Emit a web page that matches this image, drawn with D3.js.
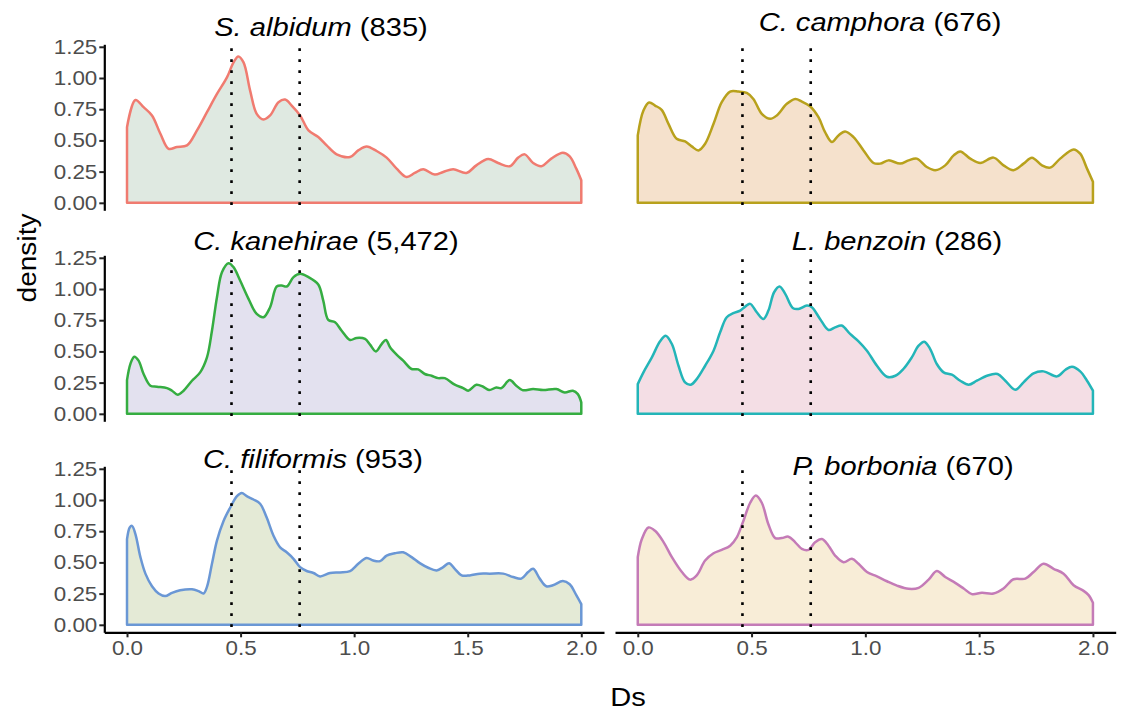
<!DOCTYPE html>
<html>
<head>
<meta charset="utf-8">
<script src="https://cdn.jsdelivr.net/npm/d3@7/dist/d3.min.js"></script>
<style>
  html, body { margin: 0; padding: 0; background: #ffffff; }
  svg { display: block; font-family: "Liberation Sans", Arial, Helvetica, sans-serif; }
</style>
</head>
<body>
<svg id="chart" width="1121" height="713"></svg>
<script>
// Species names (italic part) and number of gene pairs
const speciesNames = ["S. albidum", "C. camphora", "C. kanehirae", "L. benzoin", "C. filiformis", "P. borbonia"];
const pairCounts = ["(835)", "(676)", "(5,472)", "(286)", "(953)", "(670)"];

// Kernel density of Ds for each species: [Ds, density]
const albidum = [[0,0.606],[0.037,0.824],[0.073,0.766],[0.11,0.70],[0.147,0.553],[0.183,0.433],[0.22,0.447],[0.264,0.46],[0.308,0.58],[0.352,0.726],[0.396,0.872],[0.44,1.005],[0.469,1.125],[0.49,1.173],[0.513,1.125],[0.542,0.899],[0.571,0.713],[0.601,0.668],[0.63,0.70],[0.667,0.806],[0.696,0.827],[0.725,0.779],[0.762,0.70],[0.799,0.58],[0.842,0.527],[0.879,0.46],[0.923,0.388],[0.982,0.367],[1.018,0.42],[1.055,0.452],[1.099,0.415],[1.143,0.362],[1.187,0.274],[1.231,0.207],[1.267,0.239],[1.304,0.269],[1.355,0.226],[1.392,0.247],[1.436,0.269],[1.494,0.239],[1.538,0.30],[1.59,0.351],[1.634,0.319],[1.685,0.293],[1.722,0.362],[1.751,0.388],[1.788,0.319],[1.824,0.293],[1.868,0.354],[1.919,0.402],[1.949,0.372],[1.978,0.274],[2.0,0.181]];
const camphora = [[0,0.54],[0.025,0.739],[0.05,0.803],[0.076,0.779],[0.105,0.745],[0.135,0.633],[0.171,0.513],[0.208,0.492],[0.237,0.452],[0.267,0.42],[0.296,0.473],[0.333,0.633],[0.369,0.806],[0.406,0.891],[0.442,0.891],[0.479,0.88],[0.508,0.832],[0.545,0.713],[0.582,0.673],[0.611,0.70],[0.655,0.793],[0.692,0.832],[0.721,0.811],[0.757,0.774],[0.794,0.686],[0.823,0.566],[0.853,0.487],[0.882,0.54],[0.911,0.572],[0.948,0.527],[0.992,0.42],[1.036,0.319],[1.065,0.314],[1.102,0.34],[1.153,0.314],[1.19,0.34],[1.226,0.354],[1.27,0.287],[1.307,0.261],[1.351,0.30],[1.388,0.38],[1.417,0.412],[1.461,0.354],[1.505,0.319],[1.563,0.362],[1.607,0.30],[1.651,0.261],[1.695,0.314],[1.732,0.362],[1.776,0.30],[1.812,0.282],[1.856,0.354],[1.915,0.428],[1.944,0.394],[1.974,0.274],[2.0,0.168]];
const kanehirae = [[0,0.27],[0.015,0.40],[0.032,0.458],[0.051,0.426],[0.073,0.319],[0.103,0.225],[0.132,0.217],[0.176,0.206],[0.198,0.185],[0.223,0.153],[0.249,0.185],[0.286,0.265],[0.322,0.332],[0.352,0.452],[0.374,0.666],[0.396,0.934],[0.418,1.135],[0.447,1.207],[0.469,1.175],[0.498,1.068],[0.535,0.921],[0.571,0.80],[0.601,0.774],[0.63,0.854],[0.659,1.02],[0.681,1.028],[0.703,1.02],[0.733,1.095],[0.762,1.122],[0.799,1.095],[0.842,1.036],[0.864,0.907],[0.886,0.752],[0.916,0.733],[0.945,0.666],[0.982,0.592],[1.011,0.608],[1.048,0.60],[1.07,0.554],[1.096,0.50],[1.121,0.559],[1.14,0.592],[1.158,0.533],[1.187,0.474],[1.216,0.426],[1.253,0.359],[1.282,0.356],[1.311,0.319],[1.341,0.305],[1.37,0.286],[1.399,0.286],[1.443,0.233],[1.48,0.206],[1.502,0.185],[1.538,0.233],[1.568,0.217],[1.594,0.19],[1.626,0.211],[1.648,0.206],[1.685,0.27],[1.714,0.225],[1.741,0.19],[1.788,0.198],[1.832,0.19],[1.89,0.198],[1.927,0.171],[1.963,0.185],[1.985,0.158],[2.0,0.091]];
const benzoin = [[0,0.238],[0.025,0.332],[0.062,0.452],[0.098,0.581],[0.123,0.626],[0.15,0.559],[0.179,0.385],[0.208,0.252],[0.233,0.233],[0.259,0.278],[0.296,0.385],[0.333,0.506],[0.362,0.653],[0.391,0.774],[0.42,0.806],[0.45,0.827],[0.472,0.859],[0.494,0.881],[0.523,0.814],[0.552,0.76],[0.574,0.827],[0.599,0.974],[0.623,1.02],[0.648,0.961],[0.681,0.848],[0.706,0.84],[0.743,0.867],[0.765,0.854],[0.801,0.76],[0.838,0.672],[0.867,0.693],[0.896,0.707],[0.933,0.64],[0.97,0.581],[1.007,0.506],[1.051,0.385],[1.095,0.297],[1.132,0.305],[1.167,0.359],[1.204,0.452],[1.234,0.546],[1.259,0.578],[1.285,0.519],[1.314,0.399],[1.344,0.332],[1.38,0.313],[1.417,0.265],[1.454,0.233],[1.49,0.265],[1.534,0.305],[1.581,0.319],[1.615,0.265],[1.659,0.193],[1.695,0.252],[1.739,0.324],[1.783,0.34],[1.842,0.30],[1.879,0.353],[1.908,0.377],[1.944,0.34],[1.974,0.265],[2.0,0.185]];
const filiformis = [[0,0.687],[0.012,0.78],[0.022,0.793],[0.037,0.727],[0.059,0.542],[0.081,0.41],[0.11,0.309],[0.139,0.251],[0.168,0.23],[0.198,0.256],[0.234,0.277],[0.286,0.285],[0.315,0.27],[0.337,0.251],[0.352,0.304],[0.374,0.489],[0.396,0.674],[0.425,0.832],[0.454,0.938],[0.484,1.031],[0.505,1.057],[0.527,1.031],[0.557,1.004],[0.586,0.97],[0.615,0.859],[0.645,0.714],[0.674,0.621],[0.703,0.581],[0.733,0.529],[0.762,0.462],[0.791,0.431],[0.821,0.415],[0.85,0.388],[0.894,0.415],[0.938,0.42],[0.982,0.431],[1.018,0.489],[1.055,0.536],[1.084,0.515],[1.114,0.51],[1.143,0.555],[1.179,0.573],[1.216,0.581],[1.253,0.542],[1.289,0.494],[1.326,0.457],[1.363,0.436],[1.392,0.462],[1.418,0.494],[1.443,0.449],[1.473,0.396],[1.509,0.396],[1.553,0.41],[1.597,0.41],[1.656,0.41],[1.7,0.383],[1.736,0.37],[1.766,0.423],[1.788,0.449],[1.817,0.37],[1.846,0.309],[1.875,0.317],[1.919,0.351],[1.949,0.325],[1.978,0.238],[2.0,0.166]];
const borbonia = [[0,0.542],[0.018,0.687],[0.047,0.78],[0.076,0.753],[0.114,0.661],[0.15,0.542],[0.194,0.423],[0.23,0.362],[0.259,0.396],[0.296,0.515],[0.333,0.573],[0.369,0.60],[0.406,0.634],[0.435,0.70],[0.464,0.832],[0.494,0.978],[0.519,1.036],[0.545,0.978],[0.574,0.806],[0.604,0.695],[0.633,0.695],[0.662,0.706],[0.692,0.661],[0.721,0.608],[0.75,0.60],[0.779,0.661],[0.809,0.687],[0.838,0.634],[0.867,0.555],[0.904,0.502],[0.941,0.529],[0.97,0.489],[1.007,0.423],[1.051,0.388],[1.095,0.349],[1.139,0.314],[1.19,0.288],[1.234,0.296],[1.278,0.362],[1.314,0.431],[1.351,0.383],[1.395,0.336],[1.432,0.291],[1.468,0.246],[1.512,0.256],[1.563,0.251],[1.607,0.291],[1.651,0.365],[1.703,0.37],[1.739,0.423],[1.783,0.489],[1.827,0.449],[1.871,0.41],[1.915,0.317],[1.959,0.272],[1.981,0.238],[2.0,0.177]];

const densities = [albidum, camphora, kanehirae, benzoin, filiformis, borbonia];
const lineColors = ["#F07B70", "#B8A11C", "#35AD41", "#23B5B8", "#6A97D5", "#C47BB7"];
const fillColors = ["#DFE9E1", "#F5E1CC", "#E3E1EF", "#F4DEE5", "#E4EAD6", "#F8EDD7"];

// Reference Ds values marked by dotted lines
const refLines = [0.46, 0.76];

// Axis ticks
const xTicks = [0, 0.5, 1, 1.5, 2];
const yTicks = [0, 0.25, 0.5, 0.75, 1, 1.25];

// Facet layout (2 columns x 3 rows)
const colLeft = [104.3, 615];
const colRight = [604, 1115.7];
const rowTop = [44.3, 255.3, 466.3];
const panelH = 166;
const titleX = [321, 880, 326, 897, 313, 903];
const titleY = [36, 31, 250, 250, 468, 475];

// Text glyphs are drawn slightly widened
const wideX = 1.12;

const svg = d3.select("#chart");

function widenTick(sel, dx) {
  sel.each(function () {
    const t = d3.select(this);
    t.attr("transform", `translate(${dx},0) scale(${wideX},1)`).attr("x", 0);
  });
}

densities.forEach((pts, i) => {
  const col = i % 2, row = Math.floor(i / 2);
  const x = d3.scaleLinear().domain([-0.1, 2.1]).range([colLeft[col], colRight[col]]);
  const y = d3.scaleLinear().domain([-0.06, 1.27]).range([rowTop[row] + panelH, rowTop[row]]);
  const g = svg.append("g");

  const area = d3.area()
    .x(d => x(d[0]))
    .y0(y(0))
    .y1(d => y(d[1]))
    .curve(d3.curveCatmullRom.alpha(0.5));

  g.append("path")
    .datum(pts)
    .attr("d", area)
    .attr("fill", fillColors[i])
    .attr("stroke", lineColors[i])
    .attr("stroke-width", 2.5)
    .attr("stroke-linejoin", "round");

  g.selectAll("line.ref")
    .data(refLines)
    .enter().append("line")
    .attr("class", "ref")
    .attr("x1", d => x(d)).attr("x2", d => x(d))
    .attr("y1", rowTop[row] + 4).attr("y2", rowTop[row] + panelH)
    .attr("stroke", "#000")
    .attr("stroke-width", 2.6)
    .attr("stroke-dasharray", "2.6,8.4");

  // y axis on the left column
  if (col === 0) {
    const ya = g.append("g")
      .attr("transform", `translate(${colLeft[0]},0)`)
      .call(d3.axisLeft(y).tickValues(yTicks).tickFormat(d3.format(".2f")).tickSizeInner(5).tickSizeOuter(0).tickPadding(3));
    ya.select(".domain").attr("stroke", "#000").attr("stroke-width", 2.2);
    ya.selectAll(".tick line").attr("stroke", "#222").attr("stroke-width", 2);
    ya.selectAll(".tick text").attr("fill", "#4D4D4D")
      .style("font-size", "20px").style("font-family", "Liberation Sans, Arial, sans-serif")
      .call(widenTick, -7);
  }
  // x axis on the bottom row
  if (row === 2) {
    const xa = g.append("g")
      .attr("transform", `translate(0,${rowTop[2] + panelH})`)
      .call(d3.axisBottom(x).tickValues(xTicks).tickFormat(d3.format(".1f")).tickSizeInner(5).tickSizeOuter(0).tickPadding(4));
    xa.select(".domain").attr("stroke", "#000").attr("stroke-width", 2.2);
    xa.selectAll(".tick line").attr("stroke", "#222").attr("stroke-width", 2);
    xa.selectAll(".tick text").attr("fill", "#4D4D4D")
      .style("font-size", "20px").style("font-family", "Liberation Sans, Arial, sans-serif")
      .call(widenTick, 0);
  }

  // facet title
  const t = svg.append("text")
    .attr("transform", `translate(${titleX[i]},${titleY[i]}) scale(${wideX},1)`)
    .attr("text-anchor", "middle")
    .style("font-size", "26px")
    .attr("fill", "#000");
  t.append("tspan").style("font-style", "italic").text(speciesNames[i]);
  t.append("tspan").text(" " + pairCounts[i]);
});

// axis titles
svg.append("text")
  .attr("transform", "translate(36,258) rotate(-90) scale(1.08,1)")
  .attr("text-anchor", "middle")
  .style("font-size", "26px")
  .text("density");

svg.append("text")
  .attr("transform", `translate(628,706) scale(${wideX},1)`)
  .attr("text-anchor", "middle")
  .style("font-size", "26px")
  .text("Ds");
</script>
</body>
</html>
